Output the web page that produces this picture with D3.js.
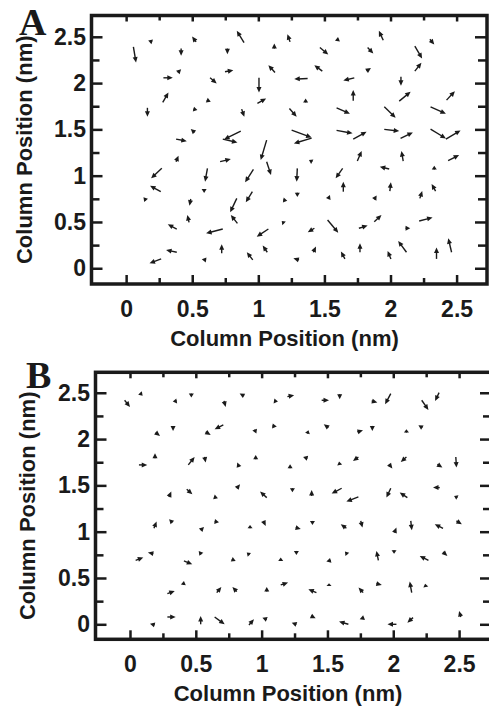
<!DOCTYPE html>
<html>
<head>
<meta charset="utf-8">
<script src="https://cdn.jsdelivr.net/npm/d3@7"></script>
<style>
  body { margin: 0; background: #fff; }
  svg text { font-family: "Liberation Sans", Arial, sans-serif; font-weight: bold; fill: #1a1a1a; }
</style>
</head>
<body>
<div id="chart"></div>
<script>
// Tick values and labels (both axes use the same ones)
var ticksMajor = [0, 0.5, 1, 1.5, 2, 2.5];
var ticksMinor = [0.25, 0.75, 1.25, 1.75, 2.25];
var tickLabels = ["0", "0.5", "1", "1.5", "2", "2.5"];
var axisTitle = "Column Position (nm)";
var panelLetters = ["A", "B"];

// Panel A: arrow tails (nm) and displacement components (nm)
var aX = [0.055, 0.197, 0.529, 0.892, 1.121, 1.240, 0.416, 0.766, 1.126, 0.391, 0.282, 0.748, 0.635, 1.005, 0.277, 0.610, 0.993, 0.161, 0.509, 0.874, 1.235, 0.517, 0.378, 0.867, 0.731, 1.063, 1.252, 1.403, 0.378, 0.711, 1.063, 0.270, 0.615, 0.963, 0.262, 0.590, 0.151, 0.489, 0.837, 0.955, 1.189, 0.476, 0.842, 1.195, 0.383, 0.731, 1.076, 0.723, 0.383, 0.605, 0.958, 1.068, 0.265, 1.308,
          1.945, 1.610, 1.466, 1.827, 2.184, 2.298, 1.484, 1.819, 2.184, 1.373, 1.726, 2.079, 1.358, 1.718, 2.066, 2.424, 1.592, 1.953, 2.303, 1.592, 1.718, 1.953, 2.076, 2.303, 2.419, 1.408, 1.749, 2.096, 2.436, 1.990, 2.331, 1.295, 1.638, 1.643, 1.995, 1.295, 1.529, 1.877, 2.222, 2.341, 1.424, 1.524, 1.761, 1.877, 2.114, 2.217, 1.416, 1.655, 1.769, 2.003, 2.121, 2.348, 2.462];
var aY = [2.391, 2.445, 2.445, 2.438, 2.373, 2.445, 2.373, 2.373, 2.115, 2.114, 2.057, 2.122, 2.057, 2.057, 1.791, 1.816, 1.780, 1.733, 1.719, 1.719, 1.726, 1.467, 1.395, 1.482, 1.395, 1.384, 1.492, 1.406, 1.151, 1.151, 1.151, 1.079, 1.079, 1.068, 0.827, 0.856, 0.734, 0.748, 0.755, 0.827, 0.737, 0.496, 0.485, 0.485, 0.424, 0.424, 0.424, 0.162, 0.173, 0.090, 0.090, 0.173, 0.101, 0.090,
          2.463, 2.474, 2.384, 2.384, 2.399, 2.474, 2.129, 2.132, 2.129, 2.050, 2.057, 2.068, 1.791, 1.809, 1.805, 1.816, 1.733, 1.744, 1.744, 1.489, 1.395, 1.500, 1.402, 1.503, 1.395, 1.151, 1.158, 1.158, 1.162, 1.072, 1.068, 1.079, 1.079, 0.827, 0.834, 0.816, 0.748, 0.744, 0.755, 0.834, 0.432, 0.521, 0.432, 0.503, 0.432, 0.511, 0.173, 0.101, 0.173, 0.101, 0.173, 0.101, 0.173];
var aU = [0.020, -0.030, -0.030, -0.055, 0, -0.020, 0, 0, -0.050, 0.025, 0.071, 0.063, 0.050, 0, 0.043, 0.030, 0.066, 0, 0.030, 0.020, 0.055, -0.028, 0.081, -0.126, 0.111, -0.045, 0.151, -0.134, 0.018, 0.081, 0.033, -0.081, -0.018, -0.063, -0.081, 0, -0.020, -0.010, -0.050, -0.050, 0.030, -0.013, -0.050, -0.018, -0.068, -0.126, -0.088, 0, -0.081, -0.033, -0.045, -0.035, -0.088, -0.043,
          -0.033, -0.030, 0.063, 0.043, 0.055, 0.033, -0.060, 0.033, 0.050, -0.101, -0.083, 0, 0, 0, 0.086, 0.063, 0.101, 0.086, 0.116, 0.121, 0.101, 0.113, 0.093, 0.116, 0.111, -0.025, 0.033, -0.013, 0.083, -0.071, 0, -0.005, -0.053, 0, 0.008, 0, 0.013, 0.018, 0.018, -0.030, -0.050, 0.081, 0.066, 0.055, 0.035, 0.101, 0.020, -0.030, 0, -0.025, -0.063, 0, -0.025];
var aV = [-0.169, 0.014, 0.058, 0.126, 0.054, 0.083, -0.079, -0.061, 0.079, 0.036, 0, 0.018, -0.061, -0.158, 0.108, -0.018, 0.054, -0.097, -0.011, -0.083, -0.090, 0.036, -0.022, -0.090, -0.036, -0.216, -0.079, -0.058, 0.065, 0.029, -0.144, -0.108, -0.144, -0.140, 0.065, -0.043, 0.032, -0.072, -0.151, -0.115, -0.007, 0.079, 0.090, 0.025, 0.050, -0.047, -0.083, 0.097, 0.025, 0.007, 0.083, 0.072, -0.047, 0.018,
          0.101, -0.018, -0.076, -0.065, -0.133, -0.058, 0.065, 0.032, 0.090, -0.007, -0.029, -0.097, 0.043, 0.115, 0.101, 0.097, -0.065, -0.119, -0.076, -0.032, 0.079, -0.018, 0.065, -0.101, 0.094, 0.018, 0.108, 0.108, 0.061, 0.025, 0.040, -0.144, -0.108, 0.108, 0.094, -0.047, 0.043, 0.043, 0.079, 0.076, -0.043, -0.137, 0.029, 0.072, 0, 0.036, 0.061, 0.079, 0.097, 0.086, 0.122, 0.122, 0.151];

// Panel B
var bX = [-0.041, 0.076, 0.355, 0.466, 0.714, 0.866, 1.094, 1.196, 0.195, 0.327, 0.575, 0.709, 0.947, 1.082, 1.348, 1.507, 1.727, 1.841, 2.100, 2.221, 0.068, 0.190, 0.443, 0.567, 0.828, 0.955, 1.216, 1.348, 1.593, 1.735, 1.968, 2.100, 2.335, 2.475, 0.296, 0.431, 0.638, 0.811, 1.039, 1.234, 1.380, 1.608, 1.735, 1.981, 2.107, 2.353, 2.487,
          0.182, 0.322, 0.537, 0.643, 0.912, 1.013, 1.259, 1.386, 1.644, 1.753, 2.009, 2.133, 2.378, 2.480, 0.043, 0.177, 0.410, 0.542, 0.773, 0.907, 1.145, 1.264, 1.525, 1.651, 1.887, 2.006, 2.267, 2.378, 0.284, 0.405, 0.659, 0.811, 1.039, 1.145, 1.416, 1.512, 1.771, 1.872, 2.140, 2.247,
          0.187, 0.284, 0.537, 0.643, 0.904, 1.039, 1.264, 1.375, 1.659, 1.778, 2.024, 2.150, 2.513, 1.456, 1.593, 1.836, 1.981, 2.216, 2.348];
var bY = [2.419, 2.498, 2.412, 2.491, 2.412, 2.466, 2.412, 2.459, 2.070, 2.142, 2.077, 2.153, 2.102, 2.142, 2.059, 2.124, 2.077, 2.142, 2.070, 2.124, 1.721, 1.793, 1.721, 1.807, 1.699, 1.782, 1.685, 1.793, 1.721, 1.807, 1.728, 1.807, 1.728, 1.807, 1.375, 1.458, 1.375, 1.469, 1.368, 1.469, 1.386, 1.469, 1.375, 1.469, 1.368, 1.476, 1.368,
          1.037, 1.098, 1.015, 1.109, 1.037, 1.116, 1.044, 1.116, 1.037, 1.116, 0.990, 1.116, 1.037, 1.116, 0.691, 0.763, 0.684, 0.756, 0.702, 0.749, 0.684, 0.792, 0.691, 0.756, 0.691, 0.799, 0.691, 0.781, 0.331, 0.425, 0.342, 0.353, 0.353, 0.425, 0.342, 0.414, 0.342, 0.439, 0.342, 0.403,
          -0.007, 0.079, 0, 0.079, -0.007, 0.054, 0, 0.090, 0, 0.072, 0, 0.072, 0.079, 2.419, 2.484, 2.412, 2.491, 2.419, 2.502];
var bU = [0.041, 0.020, -0.030, 0, 0.013, -0.033, 0.030, 0.051, 0.033, 0, 0.038, -0.066, 0.013, 0.033, 0.008, -0.035, 0.043, 0, 0, -0.030, 0.063, 0, 0.048, 0.008, -0.013, 0, 0, -0.033, -0.005, -0.041, 0.025, -0.043, 0.038, 0.005, 0.018, 0.043, 0.030, 0.025, -0.051, 0, 0, -0.076, -0.091, -0.033, -0.058, -0.051, -0.025,
          0.020, -0.025, 0.025, 0.033, 0, 0.018, 0.038, 0, -0.043, 0.013, 0.015, 0.008, -0.063, 0.041, 0.058, -0.041, 0.063, -0.020, 0.030, -0.020, 0, 0, -0.033, -0.018, -0.015, 0, -0.066, 0.033, 0.056, 0.005, 0.035, -0.033, 0, 0.056, -0.061, 0, -0.035, 0.041, -0.015, -0.005,
          -0.035, 0.063, 0, 0.076, 0.038, -0.033, -0.035, 0.035, -0.071, -0.033, -0.068, -0.043, -0.013, 0.056, 0, 0.043, -0.043, 0.051, -0.030];
var bV = [-0.072, -0.029, -0.007, -0.043, -0.065, 0.025, -0.007, 0.014, -0.036, -0.054, -0.032, -0.047, -0.043, -0.007, 0.036, 0.036, 0.018, -0.054, 0.036, 0.025, 0, 0.054, 0.086, -0.061, 0.047, 0.047, 0.043, 0.014, 0.036, -0.043, -0.047, -0.054, -0.036, -0.115, 0.058, -0.054, -0.014, 0.043, 0.065, -0.043, 0.065, -0.058, -0.050, -0.101, 0.054, 0, 0.018,
          0.072, 0.036, 0.036, -0.007, 0.036, -0.054, -0.014, -0.043, 0.043, -0.072, 0.054, -0.101, 0.043, -0.036, 0.029, 0.011, -0.036, 0.036, -0.018, 0.025, 0.036, -0.043, -0.014, 0.029, 0.101, -0.036, 0.047, -0.043, 0.029, 0.043, 0.061, 0.050, 0.050, 0.025, 0.036, 0.029, 0.054, -0.014, 0.119, 0.036,
          0.014, 0, 0.090, -0.079, 0.061, 0.018, 0.018, -0.025, 0.029, -0.018, 0, -0.054, 0.065, 0, -0.054, -0.018, -0.115, -0.104, -0.090];

var width = 489, height = 706;
var ink = "#1a1a1a";

var svg = d3.select("#chart").append("svg")
    .attr("width", width)
    .attr("height", height);

var panels = [
  { letter: panelLetters[0], X: aX, Y: aY, U: aU, V: aV,
    left: 91.5, right: 487, top: 15.5, bottom: 284,
    xDomain: [-0.262, 2.73], yDomain: [-0.17, 2.73],
    letterX: 19, letterY: 34.5, yTitleX: 31.5, xTitleX: 284.5, xTitleY: 346 },
  { letter: panelLetters[1], X: bX, Y: bY, U: bU, V: bV,
    left: 95.5, right: 492, top: 372.3, bottom: 639.3,
    xDomain: [-0.262, 2.75], yDomain: [-0.162, 2.721],
    letterX: 26, letterY: 388, yTitleX: 35, xTitleX: 288, xTitleY: 701 }
];

panels.forEach(drawPanel);

function drawPanel(p) {
  var x = d3.scaleLinear().domain(p.xDomain).range([p.left, p.right]);
  var y = d3.scaleLinear().domain(p.yDomain).range([p.bottom, p.top]);
  var g = svg.append("g");

  // inward ticks on all four sides, labels only bottom and left
  function addAxis(axis, tx, ty) {
    var a = g.append("g")
        .attr("transform", "translate(" + tx + "," + ty + ")")
        .call(axis);
    a.select(".domain").remove();
    a.selectAll(".tick line").attr("stroke", ink).attr("stroke-width", 2.5);
    a.selectAll(".tick text")
        .attr("font-size", 23)
        .attr("fill", ink);
    a.attr("font-family", null).attr("font-size", null);
    return a;
  }
  var fmt = function (d, i) { return tickLabels[i]; };
  addAxis(d3.axisBottom(x).tickValues(ticksMajor).tickSize(-9).tickPadding(16.5).tickFormat(fmt), 0, p.bottom);
  addAxis(d3.axisBottom(x).tickValues(ticksMinor).tickSize(-6).tickFormat(""), 0, p.bottom);
  addAxis(d3.axisTop(x).tickValues(ticksMajor).tickSize(-6).tickFormat(""), 0, p.top);
  addAxis(d3.axisTop(x).tickValues(ticksMinor).tickSize(-5).tickFormat(""), 0, p.top);
  addAxis(d3.axisLeft(y).tickValues(ticksMajor).tickSize(-11).tickPadding(5.5).tickFormat(fmt), p.left, 0);
  addAxis(d3.axisLeft(y).tickValues(ticksMinor).tickSize(-8).tickFormat(""), p.left, 0);
  addAxis(d3.axisRight(y).tickValues(ticksMajor).tickSize(-12).tickFormat(""), p.right, 0);
  addAxis(d3.axisRight(y).tickValues(ticksMinor).tickSize(-9).tickFormat(""), p.right, 0);

  // frame
  g.append("rect")
      .attr("x", p.left).attr("y", p.top)
      .attr("width", p.right - p.left).attr("height", p.bottom - p.top)
      .attr("fill", "none").attr("stroke", ink).attr("stroke-width", 3.5);

  // arrows: shaft plus small filled head
  var arrows = d3.range(p.X.length).map(function (i) {
    return { x1: x(p.X[i]), y1: y(p.Y[i]), x2: x(p.X[i] + p.U[i]), y2: y(p.Y[i] + p.V[i]) };
  });
  var ag = g.append("g");
  arrows.forEach(function (d) {
    var dx = d.x2 - d.x1, dy = d.y2 - d.y1;
    var len = Math.sqrt(dx * dx + dy * dy) || 1;
    var ux = dx / len, uy = dy / len;
    var hl = Math.min(5.5, len), hw = 2.5;
    var bx = d.x2 - ux * hl, by = d.y2 - uy * hl;
    ag.append("line")
        .attr("x1", d.x1).attr("y1", d.y1)
        .attr("x2", bx + ux * hl * 0.4).attr("y2", by + uy * hl * 0.4)
        .attr("stroke", ink).attr("stroke-width", 1.4);
    ag.append("path")
        .attr("d", "M" + d.x2 + "," + d.y2 +
                   "L" + (bx - uy * hw) + "," + (by + ux * hw) +
                   "L" + (bx + uy * hw) + "," + (by - ux * hw) + "Z")
        .attr("fill", ink);
  });

  // axis titles
  g.append("text")
      .attr("x", p.xTitleX).attr("y", p.xTitleY)
      .attr("text-anchor", "middle")
      .attr("font-size", 22)
      .text(axisTitle);
  g.append("text")
      .attr("transform", "translate(" + p.yTitleX + "," + (p.top + p.bottom) / 2 + ") rotate(-90)")
      .attr("text-anchor", "middle")
      .attr("font-size", 22)
      .text(axisTitle);

  // panel letter
  g.append("text")
      .attr("x", p.letterX).attr("y", p.letterY)
      .style("font-family", "'Liberation Serif', 'Times New Roman', serif")
      .attr("font-size", 38)
      .text(p.letter);
}
</script>
</body>
</html>
